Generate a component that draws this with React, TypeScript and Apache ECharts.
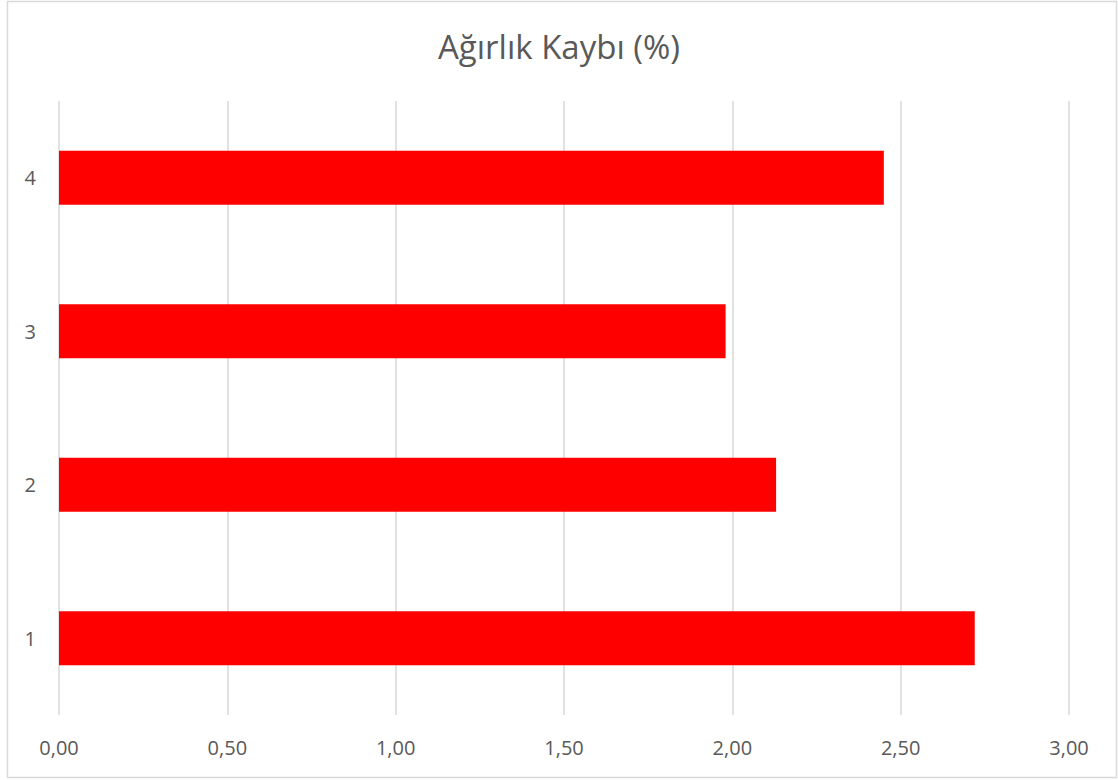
import React, { useEffect, useRef } from "react";
import * as echarts from "echarts";

const title = "Ağırlık Kaybı (%)";
const categories = ["1", "2", "3", "4"];
const values = [2.72, 2.13, 1.98, 2.45];
const xMin = 0;
const xMax = 3;
const xInterval = 0.5;

export default function App() {
  const ref = useRef<HTMLDivElement>(null);
  useEffect(() => {
    document.body.style.margin = "0";
    const chart = echarts.init(ref.current!, undefined, { renderer: "svg" });
    const font = "'Open Sans', 'Noto Sans', sans-serif";
    chart.setOption({
      animation: false,
      backgroundColor: "#ffffff",
      title: {
        text: title,
        left: "center",
        top: 25,
        textStyle: { fontFamily: font, fontSize: 33, fontWeight: "normal", color: "#595959" },
      },
      graphic: [
        {
          type: "rect",
          shape: { x: 7.5, y: 1.5, width: 1109, height: 776 },
          style: { fill: "none", stroke: "#d9d9d9", lineWidth: 1.5 },
          silent: true,
        },
      ],
      grid: { left: 59, right: 49, top: 101, bottom: 65, containLabel: false },
      xAxis: {
        type: "value",
        min: xMin,
        max: xMax,
        interval: xInterval,
        axisLine: { show: false },
        axisTick: { show: false },
        splitLine: { show: true, lineStyle: { color: "#d9d9d9", width: 1.5 } },
        axisLabel: {
          margin: 22,
          fontFamily: font,
          fontSize: 20,
          color: "#595959",
          formatter: (v: number) => v.toFixed(2).replace(".", ","),
        },
      },
      yAxis: {
        type: "category",
        data: categories,
        axisLine: { show: false },
        axisTick: { show: false },
        splitLine: { show: false },
        axisLabel: { margin: 23, fontFamily: font, fontSize: 20, color: "#595959" },
      },
      series: [
        {
          type: "bar",
          data: values,
          barWidth: 54,
          itemStyle: { color: "#ff0000" },
        },
      ],
    });
    return () => chart.dispose();
  }, []);
  return <div ref={ref} style={{ width: 1118, height: 780 }} />;
}
